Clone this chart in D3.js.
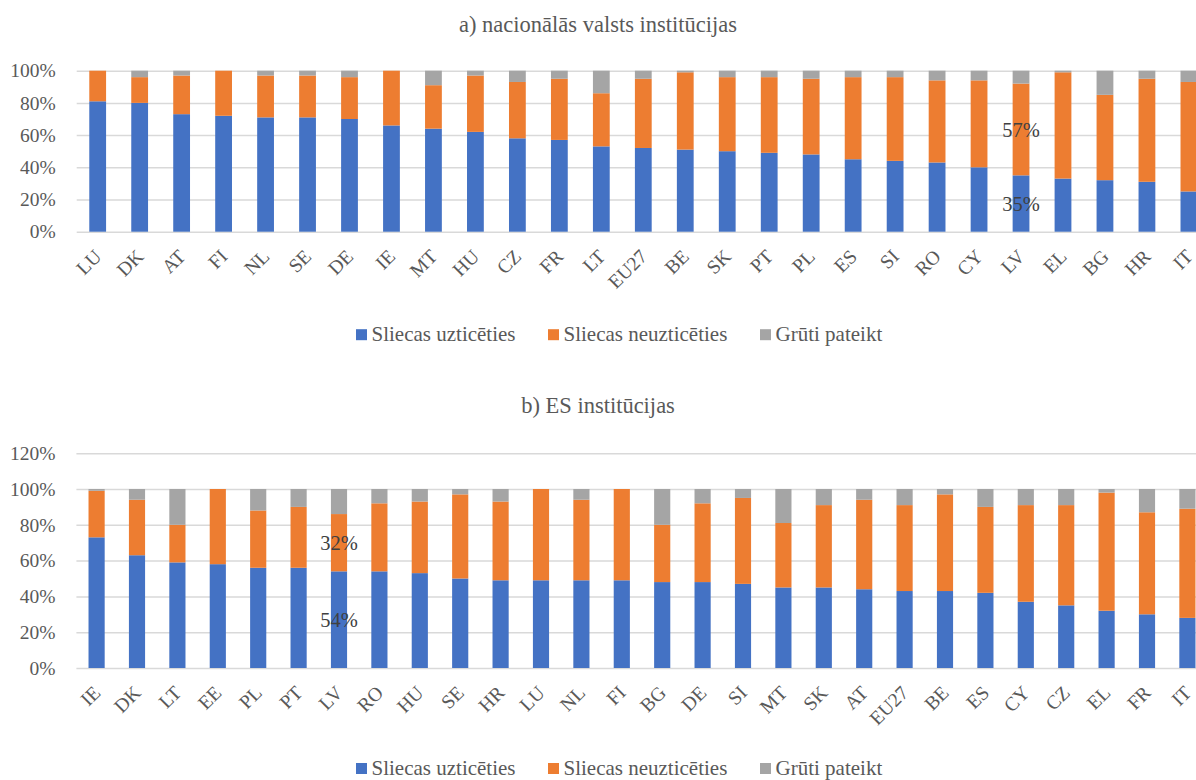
<!DOCTYPE html>
<html>
<head>
<meta charset="utf-8">
<script src="https://cdn.jsdelivr.net/npm/d3@7/dist/d3.min.js"></script>
<style>
  html, body { margin: 0; padding: 0; background: #fff; }
  svg { display: block; }
  svg text { font-family: "Liberation Serif", "DejaVu Serif", "Noto Serif", "Times New Roman", serif !important; }
</style>
</head>
<body>
<svg id="chart" width="1196" height="780"></svg>
<script>
// ---------- DATA ----------
const seriesNames = ["Sliecas uzticēties", "Sliecas neuzticēties", "Grūti pateikt"];
const seriesColors = ["#4472C4", "#ED7D31", "#A5A5A5"];

// a) nacionālās valsts institūcijas
const titleA = "a) nacionālās valsts institūcijas";
const catsA = ["LU","DK","AT","FI","NL","SE","DE","IE","MT","HU","CZ","FR","LT","EU27","BE","SK","PT","PL","ES","SI","RO","CY","LV","EL","BG","HR","IT"];
const trustA    = [81,80,73,72,71,71,70,66,64,62,58,57,53,52,51,50,49,48,45,44,43,40,35,33,32,31,25];
const distrustA = [19,16,24,28,26,26,26,34,27,35,35,38,33,43,48,46,47,47,51,52,51,54,57,66,53,64,68];
const dkA       = [ 0, 4, 3, 0, 3, 3, 4, 0, 9, 3, 7, 5,14, 5, 1, 4, 4, 5, 4, 4, 6, 6, 8, 1,15, 5, 7];
const yTicksA = [0, 20, 40, 60, 80, 100];

// b) ES institūcijas
const titleB = "b) ES institūcijas";
const catsB = ["IE","DK","LT","EE","PL","PT","LV","RO","HU","SE","HR","LU","NL","FI","BG","DE","SI","MT","SK","AT","EU27","BE","ES","CY","CZ","EL","FR","IT"];
const trustB    = [73,63,59,58,56,56,54,54,53,50,49,49,49,49,48,48,47,45,45,44,43,43,42,37,35,32,30,28];
const distrustB = [26,31,21,42,32,34,32,38,40,47,44,51,45,51,32,44,48,36,46,50,48,54,48,54,56,66,57,61];
const dkB       = [ 1, 6,20, 0,12,10,14, 8, 7, 3, 7, 0, 6, 0,20, 8, 5,19, 9, 6, 9, 3,10, 9, 9, 2,13,11];
const yTicksB = [0, 20, 40, 60, 80, 100, 120];

const highlight = "LV";

// ---------- DRAW ----------
const svg = d3.select("#chart");

function drawPanel(cfg) {
  const g = svg.append("g");
  const keys = ["trust", "distrust", "dk"];
  const table = cfg.cats.map((c, i) => ({ cat: c, trust: cfg.trust[i], distrust: cfg.distrust[i], dk: cfg.dk[i] }));
  const stacked = d3.stack().keys(keys)(table);

  const x = d3.scaleBand().domain(cfg.cats).range([cfg.left, cfg.right]).paddingInner(0.6).paddingOuter(0.3);
  const y = d3.scaleLinear().domain([0, d3.max(cfg.yTicks)]).range([cfg.bottom, cfg.top]);

  // title
  g.append("text")
    .attr("x", 598).attr("y", cfg.titleY)
    .attr("text-anchor", "middle")
    .attr("font-size", 22.5)
    .attr("fill", "#595959")
    .text(cfg.title);

  // gridlines + y labels
  const yAxis = d3.axisLeft(y).tickValues(cfg.yTicks).tickFormat(d => d + "%")
    .tickSize(-(cfg.right - cfg.left)).tickPadding(21);
  const ya = g.append("g").attr("transform", `translate(${cfg.left},0)`).call(yAxis);
  ya.select(".domain").remove();
  ya.selectAll(".tick line").attr("stroke", "#D9D9D9").attr("stroke-width", 1.5);
  ya.selectAll(".tick text")
    .attr("font-size", 19.5).attr("fill", "#595959");

  // bars
  g.append("g").selectAll("g").data(stacked).join("g")
    .attr("fill", (d, i) => seriesColors[i])
    .selectAll("rect").data(d => d).join("rect")
    .attr("x", d => x(d.data.cat))
    .attr("width", x.bandwidth())
    .attr("y", d => y(d[1]))
    .attr("height", d => Math.max(0, y(d[0]) - y(d[1])));

  // x axis labels
  const xAxis = d3.axisBottom(x).tickSize(0).tickPadding(0);
  const xa = g.append("g").attr("transform", `translate(0,${cfg.bottom})`).call(xAxis);
  xa.select(".domain").remove();
  xa.selectAll(".tick text")
    .attr("font-size", 19.5).attr("fill", "#595959")
    .attr("text-anchor", "end")
    .attr("dy", null)
    .attr("y", 0)
    .attr("transform", "translate(5,26) rotate(-45)");

  // data labels for highlighted country
  const hi = table.find(d => d.cat === highlight);
  const cx = x(highlight) + x.bandwidth() / 2;
  [["trust", 0, hi.trust], ["distrust", hi.trust, hi.trust + hi.distrust]].forEach(([k, a, b]) => {
    g.append("text")
      .attr("x", cx).attr("y", y((a + b) / 2))
      .attr("dy", "0.35em")
      .attr("text-anchor", "middle")
      .attr("font-size", 20.5)
      .attr("fill", "#404040")
      .text(hi[k] + "%");
  });

  // legend
  const lg = g.append("g");
  const lx = [356, 548, 760];
  seriesNames.forEach((name, i) => {
    lg.append("rect")
      .attr("x", lx[i]).attr("y", cfg.legendY - 5.5)
      .attr("width", 11).attr("height", 11)
      .attr("fill", seriesColors[i]);
    lg.append("text")
      .attr("x", lx[i] + 15.5).attr("y", cfg.legendY + 6.5)
      .attr("font-size", 21)
      .attr("fill", "#595959")
      .text(name);
  });
}

drawPanel({
  title: titleA, titleY: 32,
  cats: catsA, trust: trustA, distrust: distrustA, dk: dkA,
  yTicks: yTicksA,
  left: 76.7, right: 76.7 + 27 * 41.97,
  top: 70.7, bottom: 231.7,
  legendY: 334.7
});

drawPanel({
  title: titleB, titleY: 413,
  cats: catsB, trust: trustB, distrust: distrustB, dk: dkB,
  yTicks: yTicksB,
  left: 76.4, right: 76.4 + 28 * 40.4,
  top: 668 - 120 * 1.79, bottom: 668,
  legendY: 768.5
});
</script>
</body>
</html>
